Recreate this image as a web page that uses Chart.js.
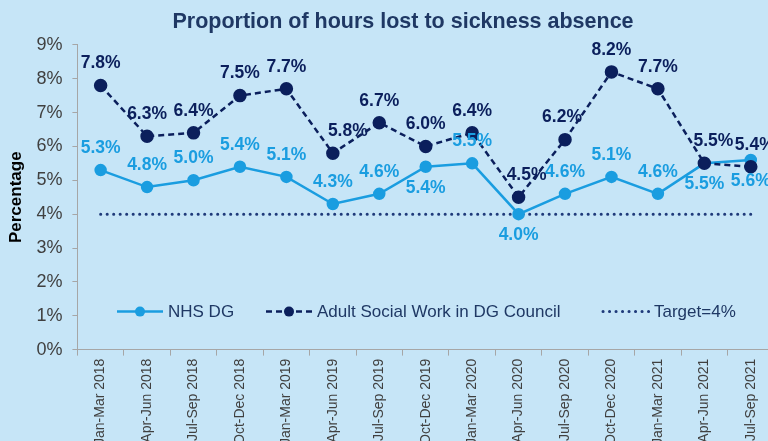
<!DOCTYPE html>
<html>
<head>
<meta charset="utf-8">
<script src="https://cdn.jsdelivr.net/npm/chart.js@4"></script>
<style>
  html, body { margin: 0; padding: 0; overflow: hidden; background: #c6e5f7; }
  #wrap { position: absolute; left: 0; top: 0; width: 808px; height: 448px; }
</style>
</head>
<body>
<div id="wrap"><canvas id="chart"></canvas></div>
<script>
// ----------------------------------------------------------------------
// data
const quarters = [
	"Jan-Mar 2018", "Apr-Jun 2018", "Jul-Sep 2018", "Oct-Dec 2018",
	"Jan-Mar 2019", "Apr-Jun 2019", "Jul-Sep 2019", "Oct-Dec 2019",
	"Jan-Mar 2020", "Apr-Jun 2020", "Jul-Sep 2020", "Oct-Dec 2020",
	"Jan-Mar 2021", "Apr-Jun 2021", "Jul-Sep 2021"]

const nhs_dg = [5.3, 4.8, 5.0, 5.4, 5.1, 4.3, 4.6, 5.4, 5.5, 4.0, 4.6, 5.1, 4.6, 5.5, 5.6]
const adult_sw = [7.8, 6.3, 6.4, 7.5, 7.7, 5.8, 6.7, 6.0, 6.4, 4.5, 6.2, 8.2, 7.7, 5.5, 5.4]
const target = [4, 4, 4, 4, 4, 4, 4, 4, 4, 4, 4, 4, 4, 4, 4]

const y_ticks = [0, 1, 2, 3, 4, 5, 6, 7, 8, 9]

// ----------------------------------------------------------------------
const col_nhs = "#1a9de0"
const col_adult = "#0b1f5c"
const col_target = "#1f3a7a"
const col_text = "#1f3864"

// label placement: 1 = above the point, -1 = below, plus small x nudges
const nhs_side = [1, 1, 1, 1, 1, 1, 1, -1, 1, -1, 1, 1, 1, -1, -1]
const adult_side = [1, 1, 1, 1, 1, 1, 1, 1, 1, 1, 1, 1, 1, 1, 1]
const adult_nudge = [0, 0, 0, 0, 0, 15, 0, 0, 0, 8, -3, 0, 0, 9, 4]

const value_labels = {
	id: 'value_labels',
	afterDatasetsDraw (chart)
	{
		const ctx = chart.ctx
		ctx.save()
		ctx.font = "bold 17.5px Arial, 'Liberation Sans'"
		ctx.textAlign = "center"
		ctx.textBaseline = "middle"
		const sets = [[0, nhs_side, null, col_nhs], [1, adult_side, adult_nudge, col_adult]]
		for (const [ds, side, nudge, col] of sets)
			{
			const meta = chart.getDatasetMeta(ds)
			ctx.fillStyle = col
			meta.data.forEach(function (pt, it)
				{
				const val = chart.data.datasets[ds].data[it]
				const dx = nudge ? nudge[it] : 0
				const dy = side[it] > 0 ? -22 : 21
				ctx.fillText(val.toFixed(1) + "%", pt.x + dx, pt.y + dy)
				})
			}
		ctx.restore()
	}
}

// legend drawn inside the plot area, as in the picture
const inner_legend = {
	id: 'inner_legend',
	afterDraw (chart)
	{
		const ctx = chart.ctx
		const area = chart.chartArea
		const yy = area.bottom - 38
		const items = [
			{x: 117, text: "NHS DG", col: col_nhs, dash: [], dot: true, width: 2.5},
			{x: 266, text: "Adult Social Work in DG Council", col: col_adult, dash: [6, 4], dot: true, width: 2.5},
			{x: 603, text: "Target=4%", col: col_target, dash: [0.1, 6.4], dot: false, width: 3}
			]
		ctx.save()
		for (const item of items)
			{
			ctx.beginPath()
			ctx.strokeStyle = item.col
			ctx.lineWidth = item.width
			ctx.lineCap = item.dot ? "butt" : "round"
			ctx.setLineDash(item.dash)
			ctx.moveTo(item.x, yy)
			ctx.lineTo(item.x + 46, yy)
			ctx.stroke()
			ctx.setLineDash([])
			if (item.dot)
				{
				ctx.beginPath()
				ctx.fillStyle = item.col
				ctx.arc(item.x + 23, yy, 5, 0, Math.PI * 2)
				ctx.fill()
				}
			ctx.fillStyle = col_text
			ctx.font = "17px Arial, 'Liberation Sans'"
			ctx.textAlign = "left"
			ctx.textBaseline = "middle"
			ctx.fillText(item.text, item.x + 51, yy + 1)
			}
		ctx.restore()
	}
}

// the title sits a little right of the padded box centre
const title_shift = {
	id: 'title_shift',
	afterLayout (chart)
	{
		const tb = chart.titleBlock
		if (tb) { tb.left += 13; tb.right += 13 }
	}
}

// ----------------------------------------------------------------------
function prog01 ()
{
	const graph_data = {
		labels: quarters,
		datasets: [
			{ label: "NHS DG", data: nhs_dg, borderColor: col_nhs, backgroundColor: col_nhs,
			  borderWidth: 2.5, pointRadius: 5, pointHoverRadius: 5, lineTension: 0, order: 1 },
			{ label: "Adult Social Work in DG Council", data: adult_sw, borderColor: col_adult,
			  backgroundColor: col_adult, borderWidth: 2.5, borderDash: [6, 4], pointRadius: 5.5,
			  pointHoverRadius: 5.5, lineTension: 0, order: 0 },
			{ label: "Target=4%", data: target, borderColor: col_target, borderWidth: 3,
			  borderDash: [0.1, 6.4], borderCapStyle: "round", pointRadius: 0, lineTension: 0, order: 2 }
			]
		}

	const options = {
		responsive: true,
		maintainAspectRatio: false,
		animation: false,
		events: [],
		layout: { padding: { left: 6, right: 34, top: 0, bottom: 0 } },
		plugins: {
			legend: { display: false },
			tooltip: { enabled: false },
			title: {
				display: true,
				text: "Proportion of hours lost to sickness absence",
				color: col_text,
				font: { family: "Arial, 'Liberation Sans'", size: 21.5, weight: "bold" },
				padding: { top: 9, bottom: 10 }
				}
			},
		scales: {
			x: {
				offset: true,
				grid: { offset: true, drawOnChartArea: false, color: "#a6a6a6", tickLength: 6 },
				border: { color: "#a6a6a6" },
				ticks: {
					color: "#404040", minRotation: 90, maxRotation: 90, autoSkip: false,
					font: { family: "Arial, 'Liberation Sans'", size: 14 }
					}
				},
			y: {
				min: 0, max: 9,
				afterBuildTicks: function (axis) { axis.ticks = y_ticks.map(v => ({value: v})) },
				grid: { drawOnChartArea: false, color: "#a6a6a6", tickLength: 5 },
				border: { color: "#a6a6a6" },
				title: {
					display: true, text: "Percentage", color: "#000000",
					font: { family: "Arial, 'Liberation Sans'", size: 17, weight: "bold" },
					padding: { top: 0, bottom: 0 }
					},
				ticks: {
					color: "#404040", padding: 10,
					font: { family: "Arial, 'Liberation Sans'", size: 18 },
					callback: v => v + "%"
					}
				}
			}
		}

	const config = {
		type: 'line',
		data: graph_data,
		options: options,
		plugins: [value_labels, inner_legend, title_shift]
		}

	const context = document.getElementById("chart")
	const chart = new Chart(context, config)
}

prog01 ()
// ----------------------------------------------------------------------
</script>
</body>
</html>
